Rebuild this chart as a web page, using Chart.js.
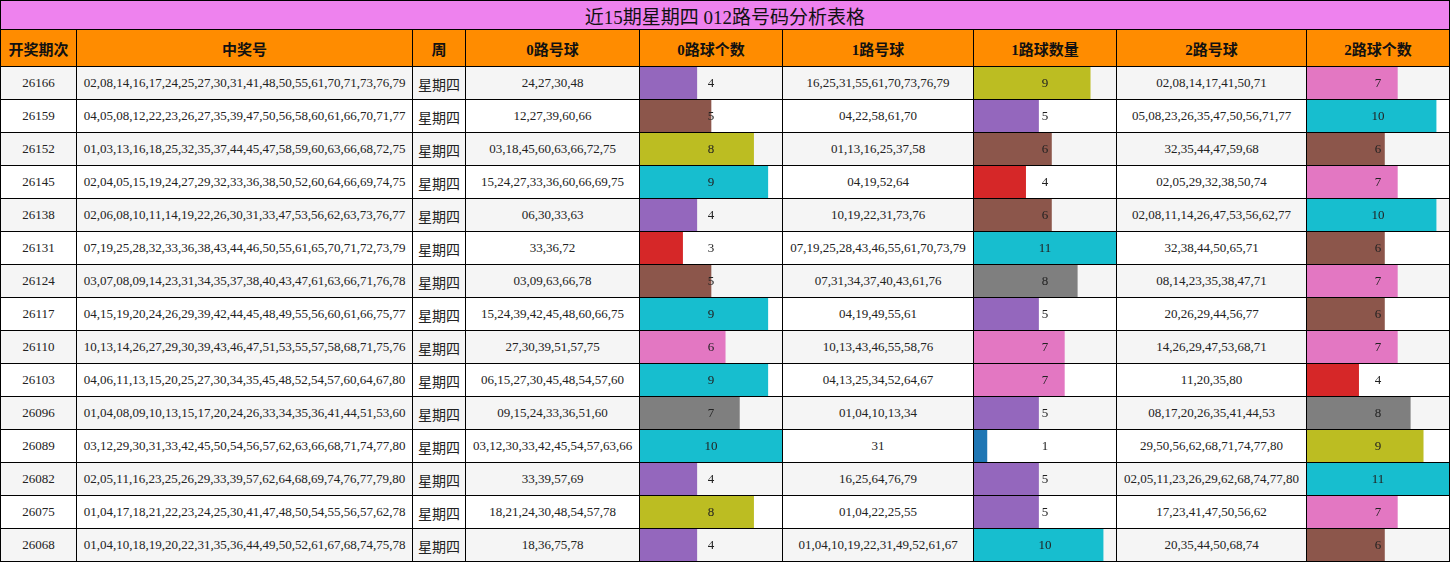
<!DOCTYPE html>
<html>
<head>
<meta charset="utf-8">
<script src="https://cdn.jsdelivr.net/npm/chart.js@4/dist/chart.umd.min.js"></script>
<style>
html,body{margin:0;padding:0;background:#fff;}
#grid{
  display:grid;
  width:1450px;height:562px;box-sizing:border-box;
  background:#000;padding:1px;gap:1px;
  grid-template-columns:75px 335px 52px 173px 142px 190px 142px 189px 142px;
  grid-template-rows:28px 36px repeat(15,32px);
  font-family:"Liberation Serif","Noto Sans CJK SC",serif;
  color:#222;
}
#grid>div{display:flex;align-items:center;justify-content:center;overflow:hidden;white-space:nowrap;}
.title{grid-column:1 / span 9;background:#ee82ee;font-size:19px;color:#111;padding-top:1px;box-sizing:border-box;}
.head{background:#ff8c00;font-weight:bold;font-size:15px;color:#111;}
.cell{font-size:13px;}
.wk{font-family:"Noto Sans CJK SC",sans-serif;font-size:14px;padding-top:2px;box-sizing:border-box;}
.odd{background:#f5f5f5;}
.even{background:#fff;}
.bar{position:relative;}
.bar canvas{position:absolute;left:0;top:0;}
</style>
</head>
<body>
<div id="grid"></div>
<script>
const title = '近15期星期四 012路号码分析表格';
const headers = ['开奖期次','中奖号','周','0路号球','0路球个数','1路号球','1路球数量','2路号球','2路球个数'];
const periods = ['26166','26159','26152','26145','26138','26131','26124','26117','26110','26103','26096','26089','26082','26075','26068'];
const weekday = '星期四';
const winning = [
'02,08,14,16,17,24,25,27,30,31,41,48,50,55,61,70,71,73,76,79',
'04,05,08,12,22,23,26,27,35,39,47,50,56,58,60,61,66,70,71,77',
'01,03,13,16,18,25,32,35,37,44,45,47,58,59,60,63,66,68,72,75',
'02,04,05,15,19,24,27,29,32,33,36,38,50,52,60,64,66,69,74,75',
'02,06,08,10,11,14,19,22,26,30,31,33,47,53,56,62,63,73,76,77',
'07,19,25,28,32,33,36,38,43,44,46,50,55,61,65,70,71,72,73,79',
'03,07,08,09,14,23,31,34,35,37,38,40,43,47,61,63,66,71,76,78',
'04,15,19,20,24,26,29,39,42,44,45,48,49,55,56,60,61,66,75,77',
'10,13,14,26,27,29,30,39,43,46,47,51,53,55,57,58,68,71,75,76',
'04,06,11,13,15,20,25,27,30,34,35,45,48,52,54,57,60,64,67,80',
'01,04,08,09,10,13,15,17,20,24,26,33,34,35,36,41,44,51,53,60',
'03,12,29,30,31,33,42,45,50,54,56,57,62,63,66,68,71,74,77,80',
'02,05,11,16,23,25,26,29,33,39,57,62,64,68,69,74,76,77,79,80',
'01,04,17,18,21,22,23,24,25,30,41,47,48,50,54,55,56,57,62,78',
'01,04,10,18,19,20,22,31,35,36,44,49,50,52,61,67,68,74,75,78'];
const zeroBalls = ['24,27,30,48','12,27,39,60,66','03,18,45,60,63,66,72,75','15,24,27,33,36,60,66,69,75','06,30,33,63','33,36,72','03,09,63,66,78','15,24,39,42,45,48,60,66,75','27,30,39,51,57,75','06,15,27,30,45,48,54,57,60','09,15,24,33,36,51,60','03,12,30,33,42,45,54,57,63,66','33,39,57,69','18,21,24,30,48,54,57,78','18,36,75,78'];
const zeroCount = [4,5,8,9,4,3,5,9,6,9,7,10,4,8,4];
const oneBalls = ['16,25,31,55,61,70,73,76,79','04,22,58,61,70','01,13,16,25,37,58','04,19,52,64','10,19,22,31,73,76','07,19,25,28,43,46,55,61,70,73,79','07,31,34,37,40,43,61,76','04,19,49,55,61','10,13,43,46,55,58,76','04,13,25,34,52,64,67','01,04,10,13,34','31','16,25,64,76,79','01,04,22,25,55','01,04,10,19,22,31,49,52,61,67'];
const oneCount = [9,5,6,4,6,11,8,5,7,7,5,1,5,5,10];
const twoBalls = ['02,08,14,17,41,50,71','05,08,23,26,35,47,50,56,71,77','32,35,44,47,59,68','02,05,29,32,38,50,74','02,08,11,14,26,47,53,56,62,77','32,38,44,50,65,71','08,14,23,35,38,47,71','20,26,29,44,56,77','14,26,29,47,53,68,71','11,20,35,80','08,17,20,26,35,41,44,53','29,50,56,62,68,71,74,77,80','02,05,11,23,26,29,62,68,74,77,80','17,23,41,47,50,56,62','20,35,44,50,68,74'];
const twoCount = [7,10,6,7,10,6,7,6,7,4,8,9,11,7,6];

const palette = ['#1f77b4','#ff7f0e','#2ca02c','#d62728','#9467bd','#8c564b','#e377c2','#7f7f7f','#bcbd22','#17becf'];
function colorFor(v, offset){ return palette[Math.max(0, Math.min(9, v + offset))]; }

const grid = document.getElementById('grid');
function add(cls, text){
  const d = document.createElement('div');
  d.className = cls;
  if (text !== undefined) d.textContent = text;
  grid.appendChild(d);
  return d;
}
add('title', title);
headers.forEach(h => add('head', h));

const labelPlugin = {
  id: 'centerLabel',
  afterDatasetsDraw(chart){
    const ctx = chart.ctx;
    const area = chart.chartArea;
    const meta = chart.getDatasetMeta(0);
    const v = chart.data.datasets[0].data[0];
    const y = meta.data[0].y;
    ctx.save();
    ctx.fillStyle = '#222';
    ctx.font = '13px "Liberation Serif", serif';
    ctx.textAlign = 'center';
    ctx.textBaseline = 'middle';
    ctx.fillText(String(v), (area.left + area.right) / 2, y + 0.5);
    ctx.restore();
  }
};

const barCells = [];
function barCell(cls, value, max, offset){
  const d = add(cls + ' bar');
  const c = document.createElement('canvas');
  c.width = 142; c.height = 32;
  c.style.width = '142px'; c.style.height = '32px';
  d.appendChild(c);
  barCells.push({canvas: c, value, max, color: colorFor(value, offset)});
}

const max0 = Math.max(...zeroCount), max1 = Math.max(...oneCount), max2 = Math.max(...twoCount);
periods.forEach((p, i) => {
  const rc = (i % 2 === 0) ? 'odd' : 'even';
  add('cell ' + rc, p);
  add('cell ' + rc, winning[i]);
  add('wk ' + rc, weekday);
  add('cell ' + rc, zeroBalls[i]);
  barCell('cell ' + rc, zeroCount[i], max0, 0);
  add('cell ' + rc, oneBalls[i]);
  barCell('cell ' + rc, oneCount[i], max1, -1);
  add('cell ' + rc, twoBalls[i]);
  barCell('cell ' + rc, twoCount[i], max2, -1);
});

barCells.forEach(b => {
  new Chart(b.canvas, {
    type: 'bar',
    data: {
      labels: [''],
      datasets: [{
        data: [b.value],
        backgroundColor: b.color,
        borderWidth: 0,
        barPercentage: 1,
        categoryPercentage: 1
      }]
    },
    options: {
      indexAxis: 'y',
      responsive: false,
      animation: false,
      devicePixelRatio: 1,
      layout: {padding: 0},
      plugins: {legend: {display: false}, tooltip: {enabled: false}},
      scales: {
        x: {display: false, min: 0, max: b.max},
        y: {display: false}
      }
    },
    plugins: [labelPlugin]
  });
});
</script>
</body>
</html>
